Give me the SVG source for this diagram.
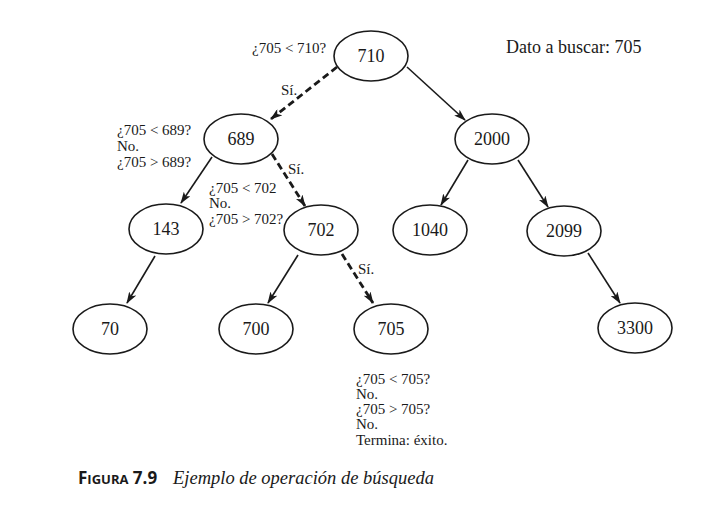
<svg xmlns="http://www.w3.org/2000/svg" width="707" height="511" viewBox="0 0 707 511">
<defs>
<style>
.n ellipse{fill:#fff;stroke:#1a1a1a;stroke-width:1.6}
.n text{font-family:"Liberation Serif",serif;font-size:18px;fill:#1a1a1a;text-anchor:middle}
.e line{stroke:#1a1a1a;stroke-width:1.6;marker-end:url(#ah)}
.e line.d{stroke-width:2.8;stroke-dasharray:7 4}
.l{font-family:"Liberation Serif",serif;font-size:15px;fill:#1a1a1a}
</style>
<marker id="ah" viewBox="0 0 12 8" refX="11" refY="4" markerWidth="12" markerHeight="8" markerUnits="userSpaceOnUse" orient="auto">
<path d="M0,0 L12,4 L0,8 L3,4 Z" fill="#1a1a1a"/>
</marker>
</defs>
<g id="connectors" class="e">
<line class="d" x1="337" y1="67" x2="271" y2="119"/>
<line x1="407" y1="67" x2="465" y2="120"/>
<line x1="212" y1="157" x2="181" y2="203"/>
<line class="d" x1="272" y1="154" x2="305" y2="206"/>
<line x1="468" y1="160" x2="441" y2="205"/>
<line x1="518" y1="160" x2="548" y2="207"/>
<line x1="155" y1="256" x2="127" y2="303"/>
<line x1="298" y1="255" x2="268" y2="303"/>
<line class="d" x1="342" y1="254" x2="373" y2="303"/>
<line x1="588" y1="253" x2="620" y2="303"/>
</g>
<g id="n710" class="n"><ellipse cx="371" cy="56" rx="37" ry="25"/><text x="371" y="62">710</text></g>
<g id="n689" class="n"><ellipse cx="241" cy="139" rx="37" ry="25"/><text x="241" y="145">689</text></g>
<g id="n2000" class="n"><ellipse cx="492" cy="139" rx="37" ry="25"/><text x="492" y="145">2000</text></g>
<g id="n143" class="n"><ellipse cx="166" cy="229" rx="37" ry="25"/><text x="166" y="235">143</text></g>
<g id="n702" class="n"><ellipse cx="321" cy="230" rx="37" ry="25"/><text x="321" y="236">702</text></g>
<g id="n1040" class="n"><ellipse cx="430" cy="230" rx="37" ry="25"/><text x="430" y="236">1040</text></g>
<g id="n2099" class="n"><ellipse cx="564" cy="231" rx="37" ry="25"/><text x="564" y="237">2099</text></g>
<g id="n70" class="n"><ellipse cx="110" cy="329" rx="37" ry="25"/><text x="110" y="335">70</text></g>
<g id="n700" class="n"><ellipse cx="256" cy="329" rx="37" ry="25"/><text x="256" y="335">700</text></g>
<g id="n705" class="n"><ellipse cx="391" cy="329" rx="37" ry="25"/><text x="391" y="335">705</text></g>
<g id="n3300" class="n"><ellipse cx="635" cy="328" rx="37" ry="25"/><text x="635" y="334">3300</text></g>
<g id="labels">
<text class="l" x="252" y="53">¿705 &lt; 710?</text>
<text class="l" x="281" y="95">Sí.</text>
<text class="l" x="117" y="135">¿705 &lt; 689?</text>
<text class="l" x="117" y="151">No.</text>
<text class="l" x="117" y="167">¿705 &gt; 689?</text>
<text class="l" x="288" y="174">Sí.</text>
<text class="l" x="209" y="193">¿705 &lt; 702</text>
<text class="l" x="209" y="208">No.</text>
<text class="l" x="209" y="224">¿705 &gt; 702?</text>
<text class="l" x="358" y="274">Sí.</text>
<text class="l" x="356" y="384">¿705 &lt; 705?</text>
<text class="l" x="356" y="399">No.</text>
<text class="l" x="356" y="414">¿705 &gt; 705?</text>
<text class="l" x="356" y="429">No.</text>
<text class="l" x="356" y="445">Termina: éxito.</text>
<text x="506" y="53" style="font-family:'Liberation Serif',serif;font-size:18px;fill:#1a1a1a">Dato a buscar: 705</text>
<text x="78" y="484" style="font-family:'Open Sans','DejaVu Sans',sans-serif;font-weight:bold;font-size:17px;fill:#1a1a1a">F<tspan font-size="13">IGURA</tspan> 7.9</text>
<text x="173" y="484" style="font-family:'Liberation Serif',serif;font-style:italic;font-size:18.5px;fill:#1a1a1a">Ejemplo de operación de búsqueda</text>
</g>
</svg>
